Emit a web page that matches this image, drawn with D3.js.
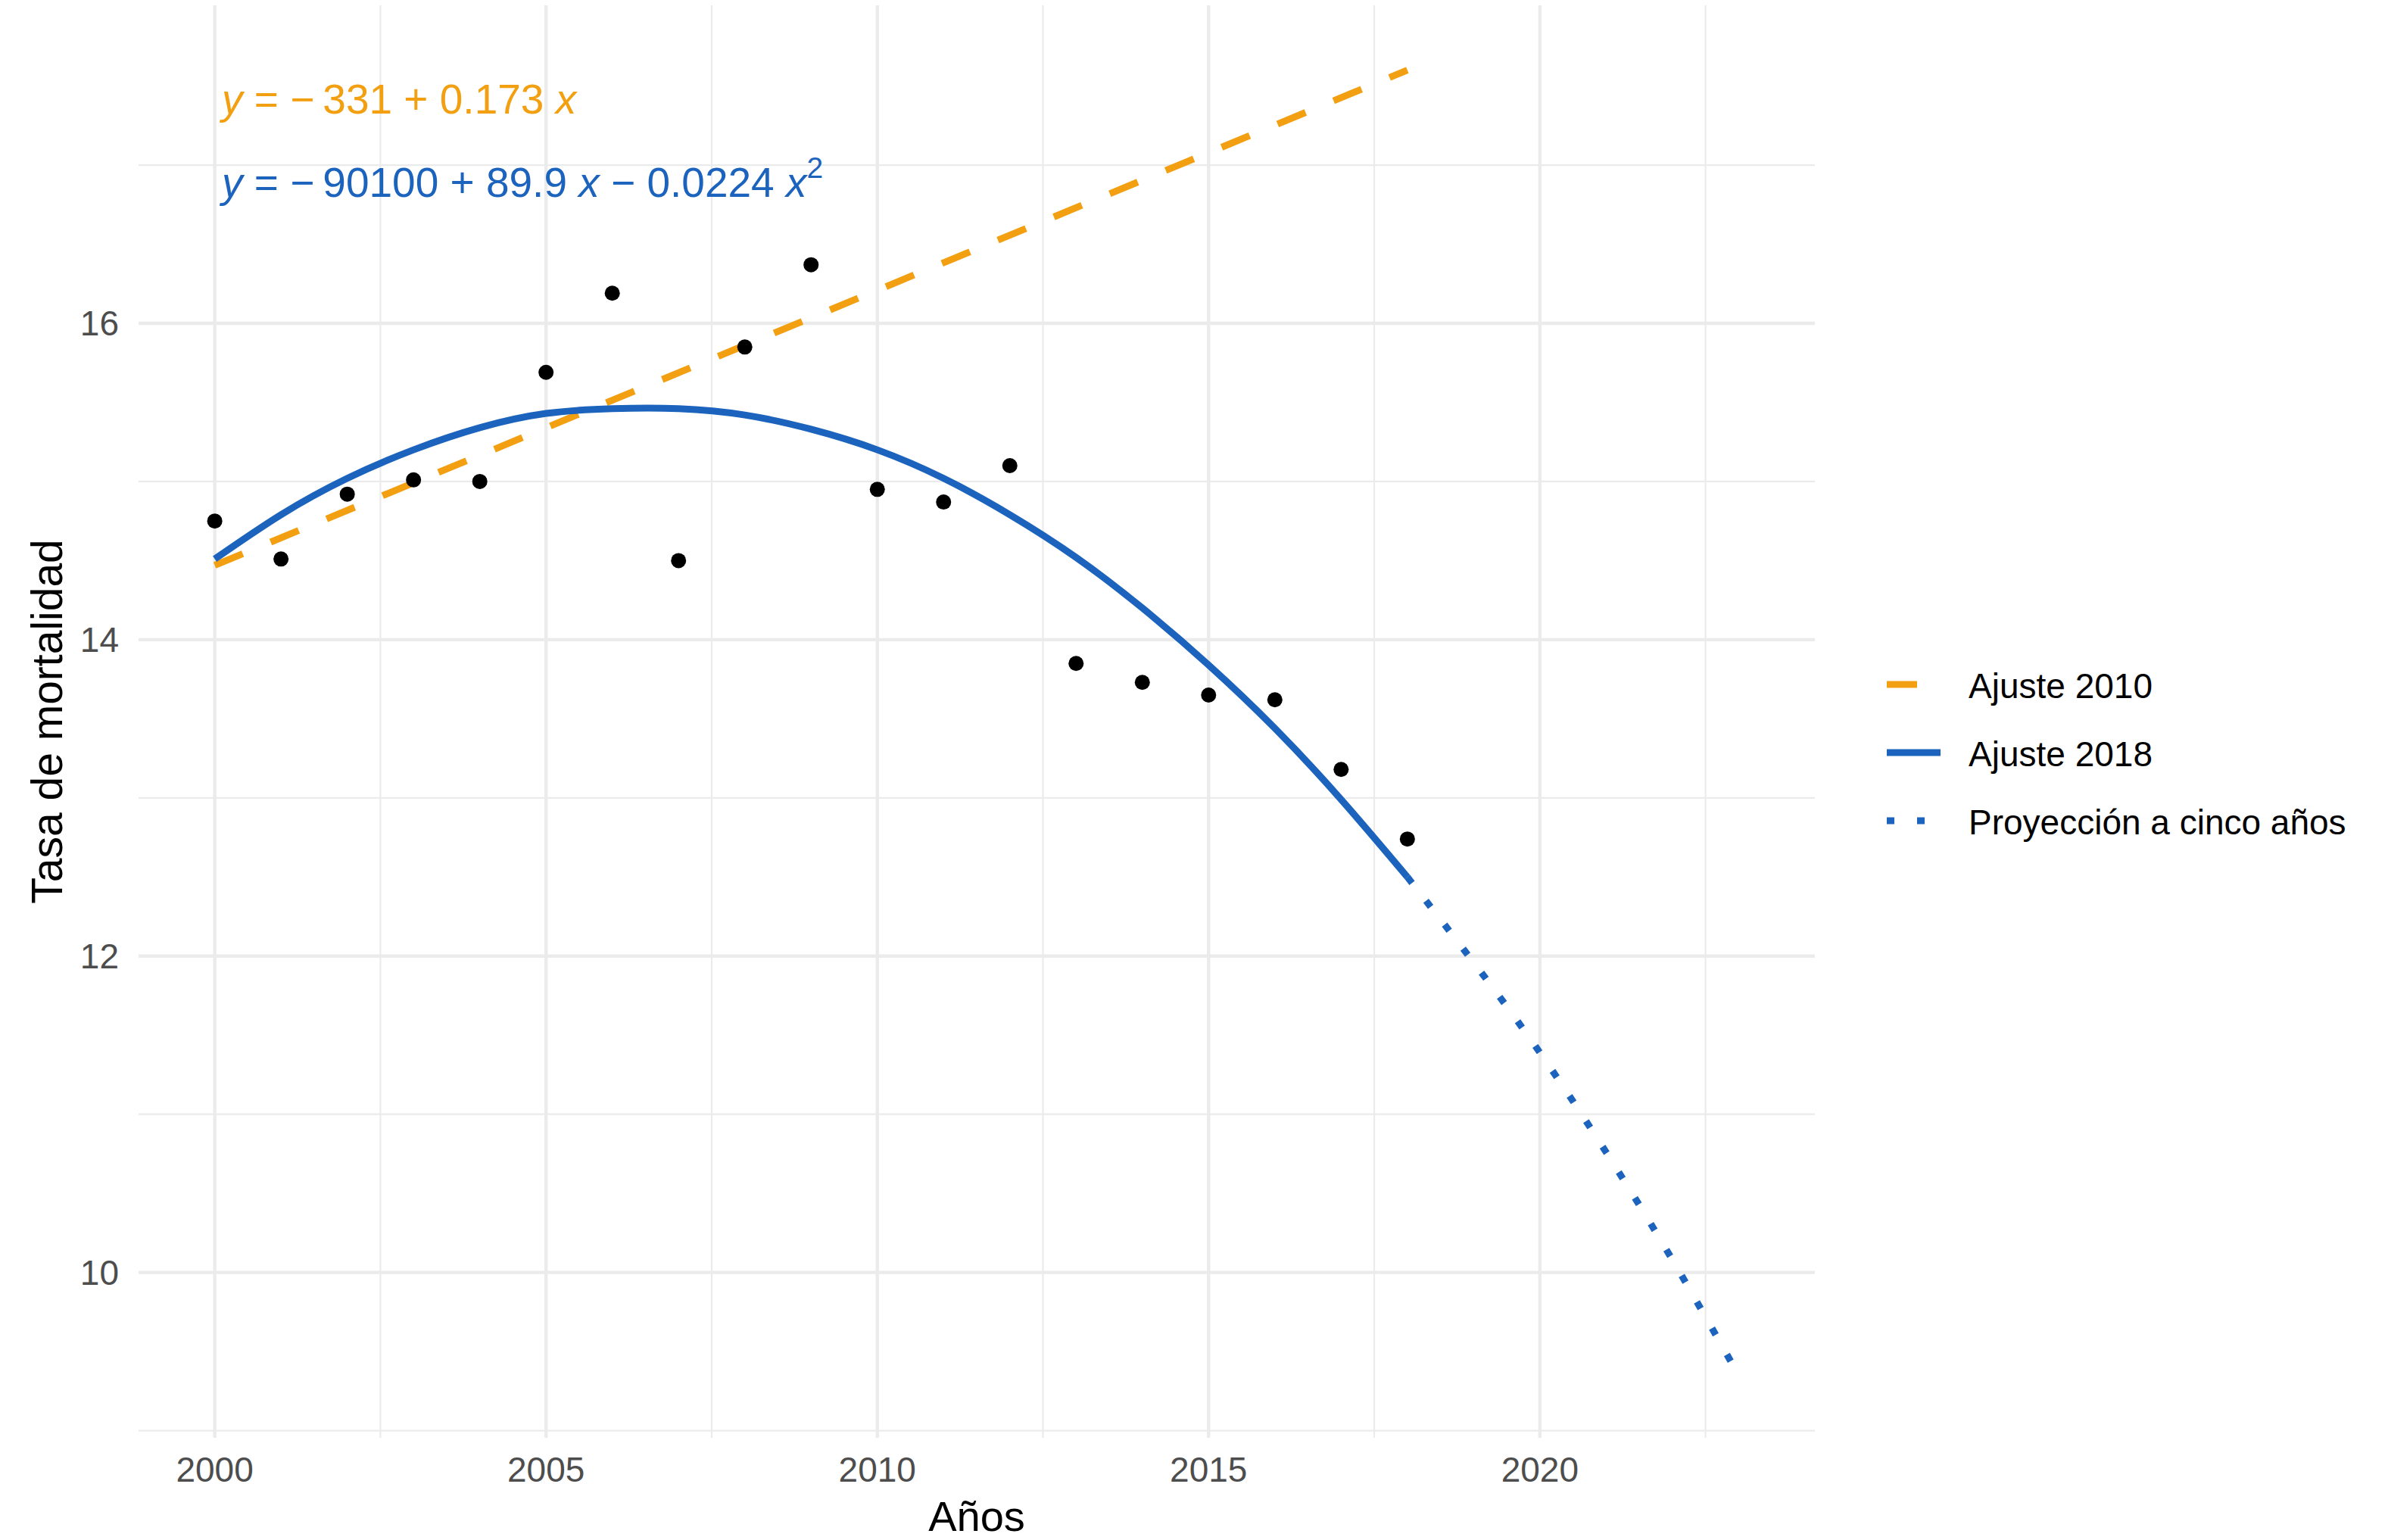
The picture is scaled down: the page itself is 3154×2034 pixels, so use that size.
<!DOCTYPE html>
<html>
<head>
<meta charset="utf-8">
<script src="https://cdn.jsdelivr.net/npm/d3@7"></script>
<style>
  body { margin: 0; background: #fff; }
  text { font-family: "Liberation Sans", Arial, sans-serif; }
</style>
</head>
<body>
<div id="chart"></div>
<script>
// Datos observados (tasa de mortalidad por año)
const anios = [2000, 2001, 2002, 2003, 2004, 2005, 2006, 2007, 2008, 2009,
               2010, 2011, 2012, 2013, 2014, 2015, 2016, 2017, 2018];
const tasa = [14.75, 14.51, 14.92, 15.01, 15.00, 15.69, 16.19, 14.50, 15.85, 16.37,
              14.95, 14.87, 15.10, 13.85, 13.73, 13.65, 13.62, 13.18, 12.74];

const aniosAjuste2010 = [2000, 2018];
const ajuste2010 = [14.47, 17.60];

const ajuste2018 = [14.51, 14.79, 15.02, 15.20, 15.34, 15.43, 15.46, 15.46, 15.42, 15.33,
                    15.20, 15.02, 14.79, 14.52, 14.20, 13.84, 13.44, 12.99, 12.50];

// Proyección a cinco años
const aniosProyeccion = [2018, 2019, 2020, 2021, 2022, 2023];
const proyeccion = [12.50, 11.96, 11.39, 10.76, 10.08, 9.35];

// Ejes
const xTicks = [2000, 2005, 2010, 2015, 2020];
const xMinor = [2002.5, 2007.5, 2012.5, 2017.5, 2022.5];
const yTicks = [10, 12, 14, 16];
const yMinor = [9, 11, 13, 15, 17];

const leyenda = ["Ajuste 2010", "Ajuste 2018", "Proyección a cinco años"];

const naranja = "#F29F11";
const azul = "#1B63BD";

const width = 3154, height = 2034;
const panel = {left: 183, right: 2397, top: 7, bottom: 1899};

const svg = d3.select("#chart").append("svg")
    .attr("width", width)
    .attr("height", height)
    .style("background", "#fff");

const x = d3.scaleLinear().domain([1998.85, 2024.15]).range([panel.left, panel.right]);
const y = d3.scaleLinear().domain([8.955, 18.01]).range([panel.bottom, panel.top]);

// Rejilla menor
svg.append("g").selectAll("line").data(xMinor).enter().append("line")
    .attr("x1", d => x(d)).attr("x2", d => x(d))
    .attr("y1", panel.top).attr("y2", panel.bottom)
    .attr("stroke", "#EBEBEB").attr("stroke-width", 2.2);
svg.append("g").selectAll("line").data(yMinor).enter().append("line")
    .attr("x1", panel.left).attr("x2", panel.right)
    .attr("y1", d => y(d)).attr("y2", d => y(d))
    .attr("stroke", "#EBEBEB").attr("stroke-width", 2.2);

// Rejilla mayor
svg.append("g").selectAll("line").data(xTicks).enter().append("line")
    .attr("x1", d => x(d)).attr("x2", d => x(d))
    .attr("y1", panel.top).attr("y2", panel.bottom)
    .attr("stroke", "#EBEBEB").attr("stroke-width", 4.4);
svg.append("g").selectAll("line").data(yTicks).enter().append("line")
    .attr("x1", panel.left).attr("x2", panel.right)
    .attr("y1", d => y(d)).attr("y2", d => y(d))
    .attr("stroke", "#EBEBEB").attr("stroke-width", 4.4);

// Etiquetas de los ejes
svg.append("g").selectAll("text").data(xTicks).enter().append("text")
    .attr("x", d => x(d)).attr("y", 1957)
    .attr("text-anchor", "middle")
    .attr("font-size", 46)
    .attr("fill", "#4D4D4D")
    .text(d => d);

svg.append("g").selectAll("text").data(yTicks).enter().append("text")
    .attr("x", 157).attr("y", d => y(d))
    .attr("text-anchor", "end")
    .attr("dominant-baseline", "central")
    .attr("font-size", 46)
    .attr("fill", "#4D4D4D")
    .text(d => d);

svg.append("text")
    .attr("x", (panel.left + panel.right) / 2).attr("y", 2022)
    .attr("text-anchor", "middle")
    .attr("font-size", 56)
    .attr("fill", "#000")
    .text("Años");

svg.append("text")
    .attr("transform", "translate(82," + (panel.top + panel.bottom) / 2 + ") rotate(-90)")
    .attr("text-anchor", "middle")
    .attr("font-size", 57)
    .attr("fill", "#000")
    .text("Tasa de mortalidad");

// Líneas
const linea = d3.line()
    .x(d => x(d[0]))
    .y(d => y(d[1]))
    .curve(d3.curveNatural);

svg.append("path")
    .datum(d3.zip(aniosAjuste2010, ajuste2010))
    .attr("d", linea)
    .attr("fill", "none")
    .attr("stroke", naranja)
    .attr("stroke-width", 9)
    .attr("stroke-dasharray", "40,40");

svg.append("path")
    .datum(d3.zip(anios, ajuste2018))
    .attr("d", linea)
    .attr("fill", "none")
    .attr("stroke", azul)
    .attr("stroke-width", 9);

svg.append("path")
    .datum(d3.zip(aniosProyeccion, proyeccion))
    .attr("d", linea)
    .attr("fill", "none")
    .attr("stroke", azul)
    .attr("stroke-width", 9)
    .attr("stroke-dasharray", "10,30");

// Puntos
svg.append("g").selectAll("circle").data(d3.zip(anios, tasa)).enter().append("circle")
    .attr("cx", d => x(d[0]))
    .attr("cy", d => y(d[1]))
    .attr("r", 10)
    .attr("fill", "#000");

// Ecuaciones
const eq1 = svg.append("text")
    .attr("x", 293).attr("y", 150)
    .attr("font-size", 55)
    .attr("fill", naranja);
eq1.append("tspan").attr("font-style", "italic").text("y");
eq1.append("tspan").text(" = −\u2009331 + 0.173 ");
eq1.append("tspan").attr("font-style", "italic").text("x");

const eq2 = svg.append("text")
    .attr("x", 293).attr("y", 260)
    .attr("font-size", 55)
    .attr("fill", azul);
eq2.append("tspan").attr("font-style", "italic").text("y");
eq2.append("tspan").text(" = −\u200990100 + 89.9 ");
eq2.append("tspan").attr("font-style", "italic").text("x");
eq2.append("tspan").text(" − 0.0224 ");
eq2.append("tspan").attr("font-style", "italic").text("x");
eq2.append("tspan").attr("font-size", 39).attr("dy", -25).text("2");

// Leyenda
const estilos = [
    {color: naranja, dash: "40,40"},
    {color: azul, dash: null},
    {color: azul, dash: "10,30"}
];
const ley = svg.append("g").selectAll("g").data(leyenda).enter().append("g")
    .attr("transform", (d, i) => "translate(2492," + (904 + i * 90) + ")");

ley.append("line")
    .attr("x1", 0).attr("x2", 71)
    .attr("y1", 0).attr("y2", 0)
    .attr("stroke", (d, i) => estilos[i].color)
    .attr("stroke-width", 9)
    .attr("stroke-dasharray", (d, i) => estilos[i].dash);

ley.append("text")
    .attr("x", 108).attr("y", 2)
    .attr("dominant-baseline", "central")
    .attr("font-size", 46)
    .attr("fill", "#000")
    .text(d => d);
</script>
</body>
</html>
